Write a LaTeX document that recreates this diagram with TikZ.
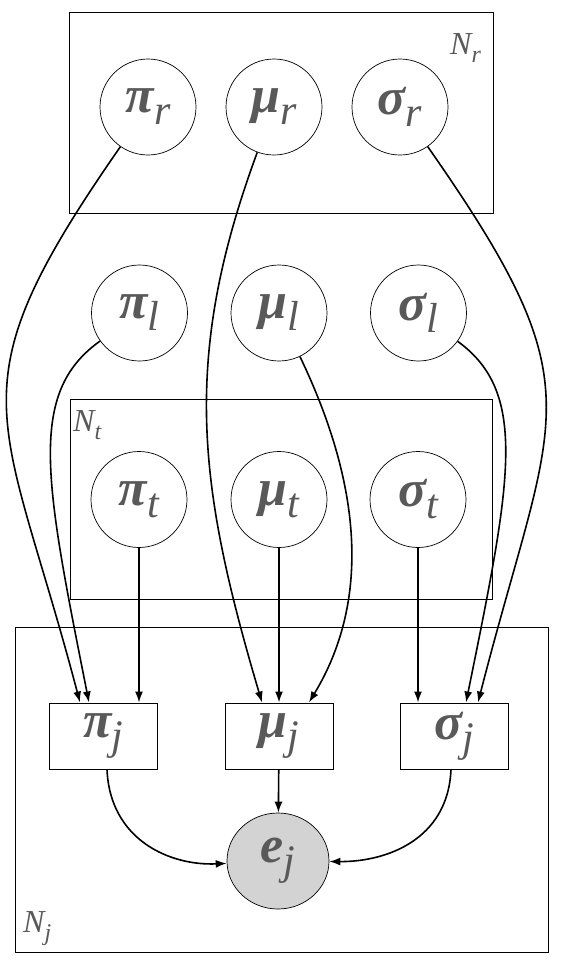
\documentclass[tikz,border=0pt]{standalone}
\usepackage{fontspec}
\setmainfont{Liberation Serif}
\usetikzlibrary{arrows.meta,shapes.geometric}
\definecolor{txt}{HTML}{595959}
\definecolor{obs}{HTML}{D3D3D3}
\newcommand\gk[2]{{\fontsize{52}{52}\selectfont\bfseries\itshape #1}\raisebox{-12pt}{\fontsize{42}{42}\selectfont\itshape #2}}
\newcommand\plab[2]{{\fontsize{32}{32}\selectfont\itshape #1}\raisebox{-8pt}{\fontsize{24}{24}\selectfont\itshape #2}}
\begin{document}
\begin{tikzpicture}[x=1pt,y=-1pt,
  circ/.style={draw, circle, minimum size=96pt, inner sep=0pt, line width=0.7pt, text=txt},
  obsv/.style={draw, ellipse, minimum width=102pt, minimum height=96pt, inner sep=0pt, line width=0.7pt, text=txt, fill=obs},
  dbox/.style={draw, rectangle, minimum width=108pt, minimum height=66pt, inner sep=0pt, line width=1pt, text=txt},
  plate/.style={draw, line width=1pt},
  lab/.style={text=txt, inner sep=0pt, anchor=base west},
  edge/.style={line width=1.6pt, -{Latex[length=11pt,width=8pt]}}]
\path[use as bounding box] (0,0) rectangle (562,962);
% plates
\draw[plate] (69,12) rectangle (493,213);
\draw[plate] (70,399) rectangle (492,599);
\draw[plate] (15,627) rectangle (548,952);
\node[lab] (nr) at (450,54) {\plab{N}{r}};
\node[lab] (nt) at (73,431) {\plab{N}{t}};
\node[lab] (nj) at (23,932) {\plab{N}{j}};
% nodes
\node[circ] (pir) at (148,107) {\gk{π}{r}};
\node[circ] (mur) at (274,107) {\gk{μ}{r}};
\node[circ] (sir) at (400,107) {\gk{σ}{r}};
\node[circ] (pil) at (139.5,313) {\gk{π}{l}};
\node[circ] (mul) at (279,313) {\gk{μ}{l}};
\node[circ] (sil) at (418.5,313) {\gk{σ}{l}};
\node[circ] (pit) at (139,499.5) {\gk{π}{t}};
\node[circ] (mut) at (279,499.5) {\gk{μ}{t}};
\node[circ] (sit) at (418,499.5) {\gk{σ}{t}};
\node[dbox] (pij) at (103.5,736) {\gk{π}{j}};
\node[dbox] (muj) at (279,736) {\gk{μ}{j}};
\node[dbox] (sij) at (454.5,736) {\gk{σ}{j}};
\node[obsv] (ej) at (278,861) {\gk{e}{j}};
% edges
\draw[edge] (pir) .. controls (-51,393) and (2,406) .. ([xshift=-23.5pt]pij.north);
\draw[edge] (pil) .. controls (27,393) and (45,481) .. ([xshift=-14.5pt]pij.north);
\draw[edge] (pit) -- (pit |- pij.north);
\draw[edge] (mur) .. controls (181,359) and (198,486) .. ([xshift=-17pt]muj.north);
\draw[edge] (mut) -- (muj);
\draw[edge] (mul) .. controls (365,492) and (368,605) .. ([xshift=30pt]muj.north);
\draw[edge] (sit) -- (sit |- sij.north);
\draw[edge] (sil) .. controls (529,393) and (511,481) .. ([xshift=11.5pt]sij.north);
\draw[edge] (sir) .. controls (600,393) and (554,406) .. ([xshift=23.5pt]sij.north);
\draw[edge] (pij.south -| 107,0) .. controls (110,840) and (170,866) .. (ej);
\draw[edge] (muj) -- (ej);
\draw[edge] (sij.south -| 451,0) .. controls (448,840) and (386,862) .. (ej);
\end{tikzpicture}
\end{document}
